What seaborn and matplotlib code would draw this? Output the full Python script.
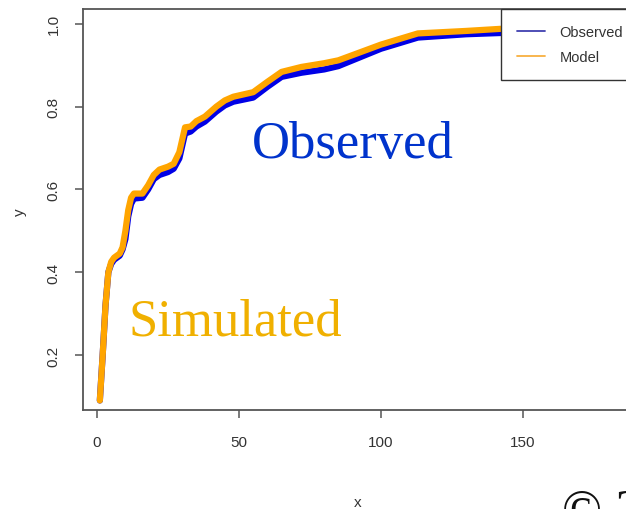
import matplotlib
matplotlib.use("Agg")
import matplotlib.pyplot as plt
from matplotlib.lines import Line2D
import seaborn as sns
import pandas as pd

# ---- data ----
x_vals = [1, 2, 3, 4, 5, 6, 8, 9, 10, 11, 12, 13, 16, 18, 20, 22, 25, 27, 29, 31,
          33, 35, 38, 42, 45, 48, 55, 60, 65, 72, 80, 85, 100, 113, 130, 142, 160, 185]
observed = [0.09, 0.20, 0.32, 0.40, 0.42, 0.43, 0.44, 0.455, 0.48, 0.535, 0.565, 0.578,
            0.58, 0.60, 0.625, 0.635, 0.642, 0.65, 0.675, 0.735, 0.74, 0.752, 0.764,
            0.788, 0.803, 0.812, 0.822, 0.848, 0.872, 0.882, 0.89, 0.898, 0.94, 0.967,
            0.975, 0.978, 0.98, 0.985]
model = [0.09, 0.20, 0.32, 0.40, 0.425, 0.435, 0.445, 0.46, 0.50, 0.55, 0.58, 0.59,
         0.59, 0.61, 0.635, 0.648, 0.655, 0.662, 0.69, 0.75, 0.752, 0.765, 0.776,
         0.80, 0.815, 0.824, 0.835, 0.86, 0.884, 0.896, 0.905, 0.912, 0.95, 0.977,
         0.983, 0.988, 0.99, 0.995]
x_ticks = [0, 50, 100, 150]
y_ticks = [0.2, 0.4, 0.6, 0.8, 1.0]
legend_labels = ["Observed", "Model"]

df = pd.DataFrame({"x": x_vals, "Observed": observed, "Model": model})

sns.set_theme(style="white")
plt.rcParams["font.family"] = ["Liberation Sans", "DejaVu Sans"]

W, H = 626, 510
fig = plt.figure(figsize=(W / 100, H / 100), dpi=100)
ax = fig.add_axes([83 / W, (H - 411) / H, 551 / W, 401 / H])

blue = "#0000E6"
orange = "#FFA500"
sns.lineplot(data=df, x="x", y="Observed", ax=ax, color=blue, linewidth=4.5,
             legend=False, solid_joinstyle="round", solid_capstyle="round")
sns.lineplot(data=df, x="x", y="Model", ax=ax, color=orange, linewidth=4.5,
             legend=False, solid_joinstyle="round", solid_capstyle="round")

ax.set_xlim(-4.93, 189.1)
ax.set_ylim(0.067, 1.036)
ax.set_xticks(x_ticks)
ax.set_xticklabels([str(t) for t in x_ticks])
ax.set_yticks(y_ticks)
ax.set_yticklabels([f"{t:.1f}" for t in y_ticks])

spine_col = "#555555"
for s in ax.spines.values():
    s.set_visible(True)
    s.set_color(spine_col)
    s.set_linewidth(1.3)

ax.tick_params(axis="both", which="major", direction="out", length=6, width=1.1,
               color=spine_col, labelcolor="#333333", labelsize=11)
ax.tick_params(axis="x", pad=12, bottom=True)
ax.tick_params(axis="y", pad=10, left=True, labelrotation=90)
for lab in ax.get_yticklabels():
    lab.set_verticalalignment("center")

ax.set_xlabel("")
ax.set_ylabel("")
fig.text(358 / W, 1 - 503 / H, "x", ha="center", va="center", fontsize=11, color="#333333")
fig.text(20 / W, 1 - 212 / H, "y", ha="center", va="center", fontsize=11, color="#333333",
         rotation=90)

handles = [Line2D([0], [0], color="#4040B0", lw=1.3),
           Line2D([0], [0], color="#F8B040", lw=1.3)]
leg = ax.legend(handles, legend_labels, loc="upper left",
                bbox_to_anchor=((501 - 83) / 551, 1.0), borderaxespad=0,
                fontsize=10.5, handlelength=1.9, handletextpad=1.0,
                borderpad=1.1, labelspacing=0.75, fancybox=False, framealpha=1,
                edgecolor="#333333")
leg.get_frame().set_linewidth(1.0)
for t in leg.get_texts():
    t.set_color("#333333")

serif = ["Liberation Serif", "DejaVu Serif"]
fig.text(252 / W, 1 - 158 / H, "Observed", ha="left", va="baseline", fontsize=38,
         color="#0033CC", family=serif)
fig.text(128 / W, 1 - 335 / H, "Simulated", ha="left", va="baseline", fontsize=38,
         color="#F0B000", family=serif)
fig.text(562 / W, 1 - 526 / H, "© 2", ha="left", va="baseline", fontsize=38,
         color="#111111", family=serif)

fig.savefig("out.png", dpi=100)
